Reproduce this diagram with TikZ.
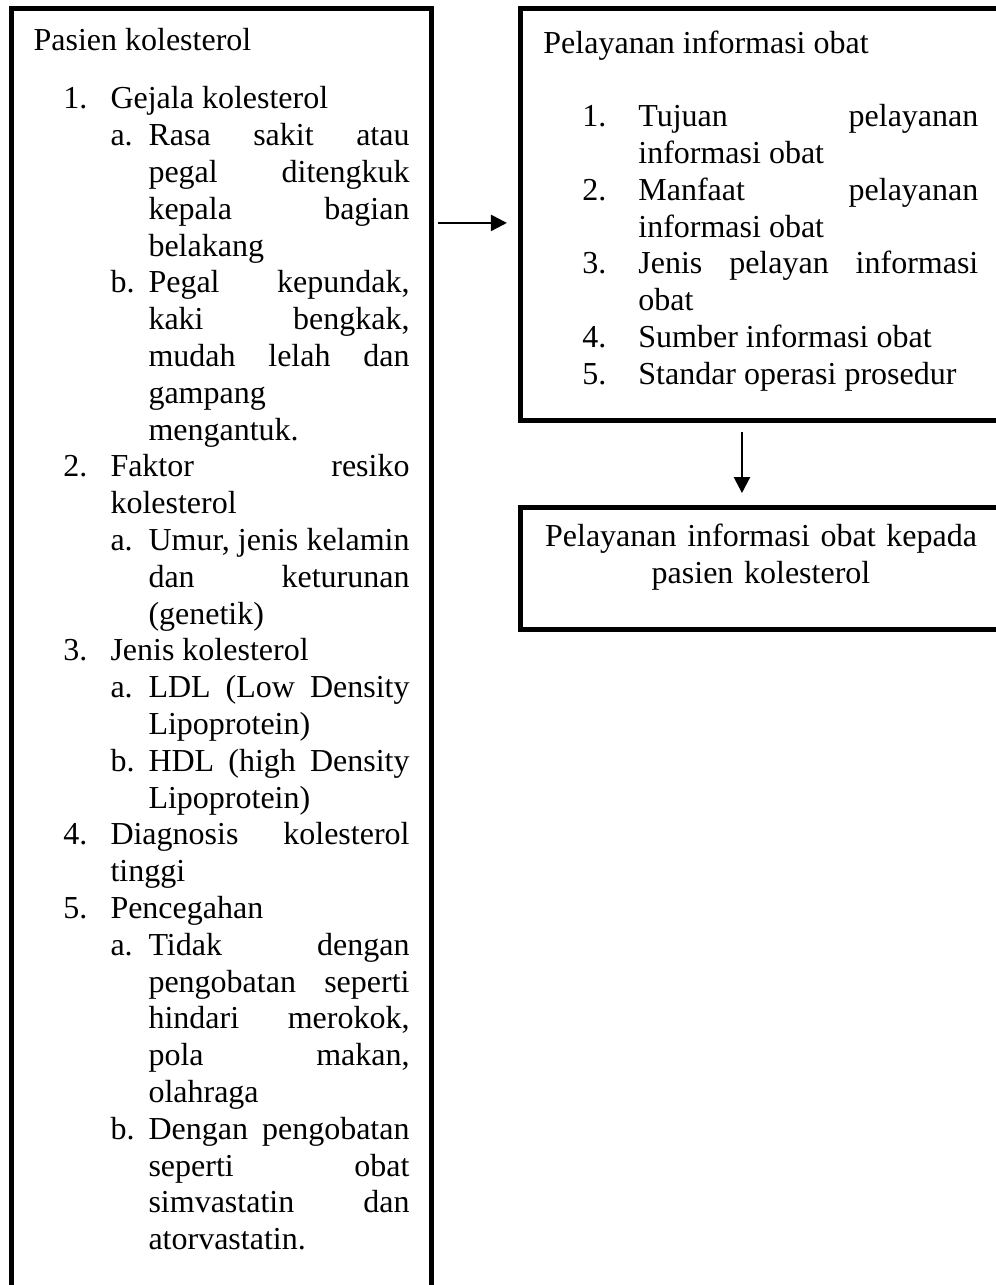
\documentclass[tikz,border=0pt]{standalone}
\usepackage{fontspec}
\setmainfont{Liberation Serif}
\usetikzlibrary{arrows.meta, positioning, calc}

% list lines: numbered items and lettered sub-items
\newcommand{\lnum}[1]{\par\leftskip=28.85pt\noindent\llap{\makebox[17.65pt][l]{#1}}\ignorespaces}
\newcommand{\lsub}[1]{\par\leftskip=43.1pt\noindent\llap{\makebox[14.25pt][l]{#1}}\ignorespaces}
\newcommand{\rnum}[1]{\par\leftskip=35.6pt\noindent\llap{\makebox[21pt][l]{#1}}\ignorespaces}
\newcommand{\bodysetup}{\tolerance=10000\hyphenpenalty=10000\parindent=0pt}

\begin{document}
\begin{tikzpicture}[
  panel/.style={draw, line width=1.875pt, inner sep=0pt, outer sep=0pt, anchor=north west},
  body/.style={inner sep=0pt, anchor=base west, align=justify, font=\fontsize{12}{13.8}\selectfont},
  flow/.style={-{Triangle[length=6pt, width=6pt]}, line width=0.9pt},
]
\useasboundingbox (0,0) rectangle (373.5pt,-481.9pt);

% --- Frames ---
\node[panel, minimum width=157.5pt, minimum height=540pt] (pasien) at (4.5pt,-3.26pt) {};
\node[panel, minimum width=210pt, minimum height=154.5pt] (pio) at (195.2pt,-3.26pt) {};
\node[panel, minimum width=210pt, minimum height=45.7pt] (kepada) at (195.2pt,-190.3pt) {};

% --- Left panel: patient ---
\node[body, text width=141pt] (pasientext) at (12.4pt,-19.1pt) {\bodysetup
\noindent Pasien kolesterol\par\vspace{7.95pt}
\lnum{1.}Gejala kolesterol
\lsub{a.}Rasa sakit atau\linebreak pegal ditengkuk\linebreak kepala bagian\linebreak belakang
\lsub{b.}Pegal kepundak,\linebreak kaki bengkak,\linebreak mudah lelah dan\linebreak gampang\newline mengantuk.
\lnum{2.}Faktor resiko\linebreak kolesterol
\lsub{a.}Umur, jenis kelamin\linebreak dan keturunan\linebreak (genetik)
\lnum{3.}Jenis kolesterol
\lsub{a.}LDL (Low Density\linebreak Lipoprotein)
\lsub{b.}HDL (high Density\linebreak Lipoprotein)
\lnum{4.}Diagnosis kolesterol\linebreak tinggi
\lnum{5.}Pencegahan
\lsub{a.}Tidak dengan\linebreak pengobatan seperti\linebreak hindari merokok,\linebreak pola makan,\linebreak olahraga
\lsub{b.}Dengan pengobatan\linebreak seperti obat\linebreak simvastatin dan\linebreak atorvastatin.\par};

% --- Right panel: drug information service ---
\node[body, text width=163.1pt] (piotext) at (203.6pt,-19.9pt) {\bodysetup
\noindent Pelayanan informasi obat\par\vspace{13.8pt}
\rnum{1.}Tujuan pelayanan\linebreak informasi obat
\rnum{2.}Manfaat pelayanan\linebreak informasi obat
\rnum{3.}Jenis pelayan informasi\linebreak obat
\rnum{4.}Sumber informasi obat
\rnum{5.}Standar operasi prosedur\par};

% --- Result panel ---
\node[body, text width=180pt, align=center, anchor=base] (kepadatext) at (285.4pt,-205.1pt)
  {Pelayanan informasi obat kepada\\pasien kolesterol};

% Arrows between panels
\coordinate (hlevel) at (0,-83.6pt);
\coordinate (vlevel) at (278.25pt,0);
\draw[flow, shorten <=2.25pt, shorten >=5.1pt] (pasien.east |- hlevel) -- (pio.west |- hlevel);
\draw[flow, shorten <=4.2pt, shorten >=5.4pt] (pio.south -| vlevel) -- (kepada.north -| vlevel);

\end{tikzpicture}
\end{document}
